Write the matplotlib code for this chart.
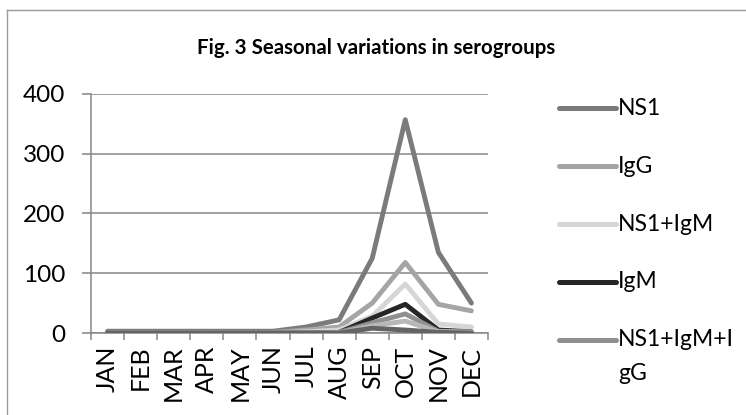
import matplotlib
matplotlib.use("Agg")
import matplotlib.pyplot as plt
from matplotlib.lines import Line2D
from matplotlib.ticker import FixedLocator, MultipleLocator

months = ["JAN", "FEB", "MAR", "APR", "MAY", "JUN", "JUL", "AUG", "SEP", "OCT", "NOV", "DEC"]
ns1 = [3, 3, 3, 3, 3, 3, 10, 22, 125, 357, 135, 50]
igg = [0, 0, 0, 1, 1, 1, 5, 10, 50, 118, 48, 37]
ns1_igm = [0, 0, 0, 0, 0, 0, 2, 5, 28, 82, 15, 10]
igm = [0, 0, 0, 0, 0, 0, 0, 1, 25, 48, 5, 2]
ns1_igm_igg = [0, 0, 0, 0, 0, 0, 0, 1, 17, 32, 3, 2]
other_a = [0, 0, 0, 0, 0, 0, 0, 0, 12, 20, 2, 1]
other_b = [0, 0, 0, 0, 0, 0, 0, 0, 8, 5, 1, 0]

series = [
    ("NS1", ns1, "#7b7b7b"),
    ("IgG", igg, "#a5a5a5"),
    ("NS1+IgM", ns1_igm, "#d6d6d6"),
    ("IgM", igm, "#262626"),
    ("NS1+IgM+I\ngG", ns1_igm_igg, "#8f8f8f"),
    ("_a", other_a, "#b8b8b8"),
    ("_b", other_b, "#646464"),
]

FONT = "Lato"
W, H = 746, 415
fig = plt.figure(figsize=(W / 100, H / 100), dpi=100)
ax = fig.add_axes([91 / W, 1 - 333 / H, (488 - 91) / W, (333 - 94) / H])

x = list(range(len(months)))
for name, vals, col in series:
    ax.plot(x, vals, color=col, lw=3.5, solid_capstyle="round", solid_joinstyle="round", zorder=3)

ax.set_xlim(-0.5, len(months) - 0.5)
ax.set_ylim(0, 400)
ax.yaxis.set_major_locator(MultipleLocator(100))
ax.grid(axis="y", color="#868686", lw=1.1)
ax.set_axisbelow(True)
for s in ["top", "right"]:
    ax.spines[s].set_visible(False)
for s in ["left", "bottom"]:
    ax.spines[s].set_color("#868686")
    ax.spines[s].set_linewidth(1.1)

ax.set_xticks(x)
ax.set_xticklabels(months, rotation=90, fontsize=18, family=FONT)
ax.xaxis.set_minor_locator(FixedLocator([i - 0.5 for i in range(len(months) + 1)]))
ax.tick_params(axis="x", which="major", length=0, pad=9)
ax.tick_params(axis="x", which="minor", length=5, color="#868686", width=1.1)
ax.tick_params(axis="y", length=6.5, color="#868686", width=1.1, pad=12, labelsize=17.5)
for lab in ax.get_yticklabels():
    lab.set_family(FONT)

fig.text(376 / W, 1 - 48 / H, "Fig. 3 Seasonal variations in serogroups", ha="center", va="center",
         fontsize=14.8, fontweight="bold", family=FONT)

# legend (manual, Excel-like layout)
leg_y = [108, 166, 224, 282, 340]
for (name, vals, col), yy in zip(series[:5], leg_y):
    fig.add_artist(Line2D([559 / W, 616 / W], [1 - yy / H, 1 - yy / H], color=col, lw=3.6,
                          solid_capstyle="round", transform=fig.transFigure))
    lines = name.split("\n")
    for k, t in enumerate(lines):
        fig.text(618 / W, 1 - (yy + 34 * k) / H, t, ha="left", va="center", fontsize=16.5, family=FONT)

# chart area border (left and top visible)
fig.add_artist(Line2D([7 / W, 7 / W], [0, 1 - 10 / H], color="#9a9a9a", lw=1.0, transform=fig.transFigure))
fig.add_artist(Line2D([7 / W, 1], [1 - 10 / H, 1 - 10 / H], color="#9a9a9a", lw=1.0, transform=fig.transFigure))

fig.savefig("out.png", dpi=100)
